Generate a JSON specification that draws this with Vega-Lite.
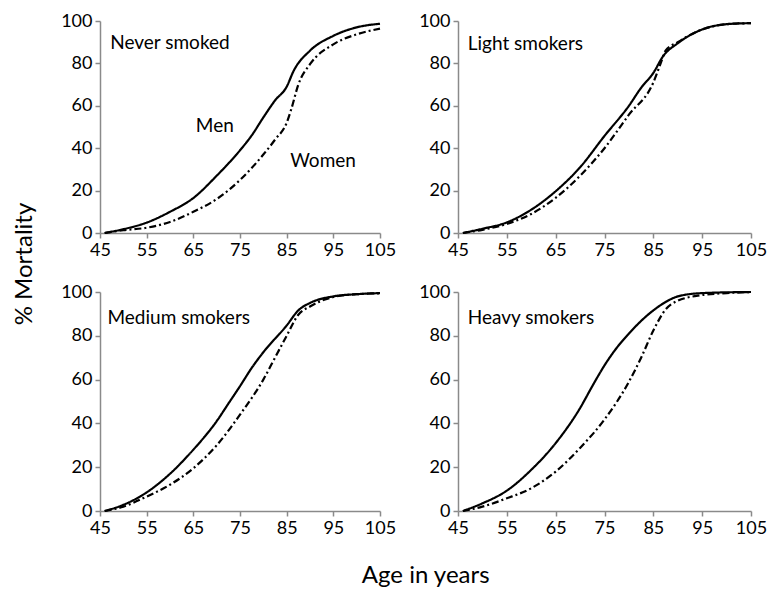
{
  "$schema": "https://vega.github.io/schema/vega-lite/v6.json",
  "background": "white",
  "padding": {"left": 12, "top": 12, "right": 5, "bottom": 5},
  "datasets": {
    "curves": [
      {"panel": "Never smoked", "sex": "Men", "age": 46, "mortality": 0},
      {"panel": "Never smoked", "sex": "Men", "age": 50, "mortality": 1.8},
      {"panel": "Never smoked", "sex": "Men", "age": 55, "mortality": 4.9},
      {"panel": "Never smoked", "sex": "Men", "age": 60, "mortality": 10},
      {"panel": "Never smoked", "sex": "Men", "age": 65, "mortality": 16.5},
      {"panel": "Never smoked", "sex": "Men", "age": 70, "mortality": 27},
      {"panel": "Never smoked", "sex": "Men", "age": 75, "mortality": 39},
      {"panel": "Never smoked", "sex": "Men", "age": 77.5, "mortality": 46},
      {"panel": "Never smoked", "sex": "Men", "age": 80, "mortality": 54.5},
      {"panel": "Never smoked", "sex": "Men", "age": 82.5, "mortality": 62.5},
      {"panel": "Never smoked", "sex": "Men", "age": 85, "mortality": 69},
      {"panel": "Never smoked", "sex": "Men", "age": 86.5, "mortality": 76.5},
      {"panel": "Never smoked", "sex": "Men", "age": 90, "mortality": 86},
      {"panel": "Never smoked", "sex": "Men", "age": 95, "mortality": 93},
      {"panel": "Never smoked", "sex": "Men", "age": 100, "mortality": 97},
      {"panel": "Never smoked", "sex": "Men", "age": 105, "mortality": 98.7},
      {"panel": "Never smoked", "sex": "Women", "age": 46, "mortality": 0},
      {"panel": "Never smoked", "sex": "Women", "age": 50, "mortality": 1.3},
      {"panel": "Never smoked", "sex": "Women", "age": 55, "mortality": 2.5},
      {"panel": "Never smoked", "sex": "Women", "age": 60, "mortality": 5.2},
      {"panel": "Never smoked", "sex": "Women", "age": 65, "mortality": 10},
      {"panel": "Never smoked", "sex": "Women", "age": 70, "mortality": 16},
      {"panel": "Never smoked", "sex": "Women", "age": 75, "mortality": 25},
      {"panel": "Never smoked", "sex": "Women", "age": 80, "mortality": 37},
      {"panel": "Never smoked", "sex": "Women", "age": 82.5, "mortality": 44},
      {"panel": "Never smoked", "sex": "Women", "age": 85, "mortality": 52},
      {"panel": "Never smoked", "sex": "Women", "age": 86, "mortality": 58.5},
      {"panel": "Never smoked", "sex": "Women", "age": 87.5, "mortality": 70},
      {"panel": "Never smoked", "sex": "Women", "age": 90, "mortality": 79.6},
      {"panel": "Never smoked", "sex": "Women", "age": 95, "mortality": 89},
      {"panel": "Never smoked", "sex": "Women", "age": 100, "mortality": 93.7},
      {"panel": "Never smoked", "sex": "Women", "age": 105, "mortality": 96.4},

      {"panel": "Light smokers", "sex": "Men", "age": 46, "mortality": 0},
      {"panel": "Light smokers", "sex": "Men", "age": 50, "mortality": 2},
      {"panel": "Light smokers", "sex": "Men", "age": 55, "mortality": 5},
      {"panel": "Light smokers", "sex": "Men", "age": 60, "mortality": 11},
      {"panel": "Light smokers", "sex": "Men", "age": 65, "mortality": 19.7},
      {"panel": "Light smokers", "sex": "Men", "age": 70, "mortality": 31},
      {"panel": "Light smokers", "sex": "Men", "age": 75, "mortality": 45.8},
      {"panel": "Light smokers", "sex": "Men", "age": 80, "mortality": 60},
      {"panel": "Light smokers", "sex": "Men", "age": 82.5, "mortality": 68.5},
      {"panel": "Light smokers", "sex": "Men", "age": 85, "mortality": 75.5},
      {"panel": "Light smokers", "sex": "Men", "age": 87, "mortality": 83.4},
      {"panel": "Light smokers", "sex": "Men", "age": 90, "mortality": 89.5},
      {"panel": "Light smokers", "sex": "Men", "age": 95, "mortality": 96},
      {"panel": "Light smokers", "sex": "Men", "age": 100, "mortality": 98.5},
      {"panel": "Light smokers", "sex": "Men", "age": 105, "mortality": 99},
      {"panel": "Light smokers", "sex": "Women", "age": 46, "mortality": 0},
      {"panel": "Light smokers", "sex": "Women", "age": 50, "mortality": 1.5},
      {"panel": "Light smokers", "sex": "Women", "age": 55, "mortality": 4.3},
      {"panel": "Light smokers", "sex": "Women", "age": 60, "mortality": 9},
      {"panel": "Light smokers", "sex": "Women", "age": 65, "mortality": 16.6},
      {"panel": "Light smokers", "sex": "Women", "age": 70, "mortality": 27},
      {"panel": "Light smokers", "sex": "Women", "age": 75, "mortality": 40},
      {"panel": "Light smokers", "sex": "Women", "age": 80, "mortality": 55.8},
      {"panel": "Light smokers", "sex": "Women", "age": 85, "mortality": 71},
      {"panel": "Light smokers", "sex": "Women", "age": 86.5, "mortality": 80},
      {"panel": "Light smokers", "sex": "Women", "age": 87.5, "mortality": 86},
      {"panel": "Light smokers", "sex": "Women", "age": 90, "mortality": 90},
      {"panel": "Light smokers", "sex": "Women", "age": 95, "mortality": 96},
      {"panel": "Light smokers", "sex": "Women", "age": 100, "mortality": 98.5},
      {"panel": "Light smokers", "sex": "Women", "age": 105, "mortality": 99},

      {"panel": "Medium smokers", "sex": "Men", "age": 46, "mortality": 0},
      {"panel": "Medium smokers", "sex": "Men", "age": 50, "mortality": 2.8},
      {"panel": "Medium smokers", "sex": "Men", "age": 55, "mortality": 8.5},
      {"panel": "Medium smokers", "sex": "Men", "age": 60, "mortality": 17},
      {"panel": "Medium smokers", "sex": "Men", "age": 65, "mortality": 28},
      {"panel": "Medium smokers", "sex": "Men", "age": 70, "mortality": 41},
      {"panel": "Medium smokers", "sex": "Men", "age": 72.5, "mortality": 49},
      {"panel": "Medium smokers", "sex": "Men", "age": 75, "mortality": 57},
      {"panel": "Medium smokers", "sex": "Men", "age": 77.5, "mortality": 65.3},
      {"panel": "Medium smokers", "sex": "Men", "age": 80, "mortality": 72.5},
      {"panel": "Medium smokers", "sex": "Men", "age": 85, "mortality": 84.7},
      {"panel": "Medium smokers", "sex": "Men", "age": 87.5, "mortality": 91.6},
      {"panel": "Medium smokers", "sex": "Men", "age": 90, "mortality": 95},
      {"panel": "Medium smokers", "sex": "Men", "age": 95, "mortality": 98},
      {"panel": "Medium smokers", "sex": "Men", "age": 100, "mortality": 99},
      {"panel": "Medium smokers", "sex": "Men", "age": 105, "mortality": 99.5},
      {"panel": "Medium smokers", "sex": "Women", "age": 46, "mortality": 0},
      {"panel": "Medium smokers", "sex": "Women", "age": 50, "mortality": 2},
      {"panel": "Medium smokers", "sex": "Women", "age": 55, "mortality": 6.6},
      {"panel": "Medium smokers", "sex": "Women", "age": 60, "mortality": 12},
      {"panel": "Medium smokers", "sex": "Women", "age": 65, "mortality": 19.5},
      {"panel": "Medium smokers", "sex": "Women", "age": 70, "mortality": 30},
      {"panel": "Medium smokers", "sex": "Women", "age": 75, "mortality": 44},
      {"panel": "Medium smokers", "sex": "Women", "age": 80, "mortality": 60},
      {"panel": "Medium smokers", "sex": "Women", "age": 82.5, "mortality": 70},
      {"panel": "Medium smokers", "sex": "Women", "age": 85, "mortality": 80},
      {"panel": "Medium smokers", "sex": "Women", "age": 87.5, "mortality": 89.6},
      {"panel": "Medium smokers", "sex": "Women", "age": 90, "mortality": 93.4},
      {"panel": "Medium smokers", "sex": "Women", "age": 95, "mortality": 97.7},
      {"panel": "Medium smokers", "sex": "Women", "age": 100, "mortality": 99},
      {"panel": "Medium smokers", "sex": "Women", "age": 105, "mortality": 99.4},

      {"panel": "Heavy smokers", "sex": "Men", "age": 46, "mortality": 0},
      {"panel": "Heavy smokers", "sex": "Men", "age": 50, "mortality": 3.5},
      {"panel": "Heavy smokers", "sex": "Men", "age": 55, "mortality": 9.3},
      {"panel": "Heavy smokers", "sex": "Men", "age": 60, "mortality": 18.8},
      {"panel": "Heavy smokers", "sex": "Men", "age": 65, "mortality": 31},
      {"panel": "Heavy smokers", "sex": "Men", "age": 70, "mortality": 47},
      {"panel": "Heavy smokers", "sex": "Men", "age": 72.5, "mortality": 57},
      {"panel": "Heavy smokers", "sex": "Men", "age": 75, "mortality": 66.5},
      {"panel": "Heavy smokers", "sex": "Men", "age": 77.5, "mortality": 74.5},
      {"panel": "Heavy smokers", "sex": "Men", "age": 80, "mortality": 81},
      {"panel": "Heavy smokers", "sex": "Men", "age": 82.5, "mortality": 86.8},
      {"panel": "Heavy smokers", "sex": "Men", "age": 85, "mortality": 91.6},
      {"panel": "Heavy smokers", "sex": "Men", "age": 87.5, "mortality": 95.4},
      {"panel": "Heavy smokers", "sex": "Men", "age": 90, "mortality": 98},
      {"panel": "Heavy smokers", "sex": "Men", "age": 95, "mortality": 99.5},
      {"panel": "Heavy smokers", "sex": "Men", "age": 105, "mortality": 100},
      {"panel": "Heavy smokers", "sex": "Women", "age": 46, "mortality": 0},
      {"panel": "Heavy smokers", "sex": "Women", "age": 50, "mortality": 2},
      {"panel": "Heavy smokers", "sex": "Women", "age": 55, "mortality": 5.8},
      {"panel": "Heavy smokers", "sex": "Women", "age": 60, "mortality": 10.4},
      {"panel": "Heavy smokers", "sex": "Women", "age": 65, "mortality": 18},
      {"panel": "Heavy smokers", "sex": "Women", "age": 70, "mortality": 28.8},
      {"panel": "Heavy smokers", "sex": "Women", "age": 75, "mortality": 41.8},
      {"panel": "Heavy smokers", "sex": "Women", "age": 80, "mortality": 59},
      {"panel": "Heavy smokers", "sex": "Women", "age": 82.5, "mortality": 70},
      {"panel": "Heavy smokers", "sex": "Women", "age": 85, "mortality": 82.4},
      {"panel": "Heavy smokers", "sex": "Women", "age": 87.5, "mortality": 92},
      {"panel": "Heavy smokers", "sex": "Women", "age": 90, "mortality": 96},
      {"panel": "Heavy smokers", "sex": "Women", "age": 95, "mortality": 98.6},
      {"panel": "Heavy smokers", "sex": "Women", "age": 100, "mortality": 99.5},
      {"panel": "Heavy smokers", "sex": "Women", "age": 105, "mortality": 100}
    ],
    "labels": [
      {"panel": "Never smoked", "kind": "panel", "label": "Never smoked", "age": 47.2, "mortality": 89.5},
      {"panel": "Never smoked", "kind": "series", "label": "Men", "age": 69.6, "mortality": 50.5},
      {"panel": "Never smoked", "kind": "series", "label": "Women", "age": 92.8, "mortality": 34},
      {"panel": "Light smokers", "kind": "panel", "label": "Light smokers", "age": 47.0, "mortality": 89},
      {"panel": "Medium smokers", "kind": "panel", "label": "Medium smokers", "age": 46.6, "mortality": 88},
      {"panel": "Heavy smokers", "kind": "panel", "label": "Heavy smokers", "age": 47.0, "mortality": 88}
    ]
  },
  "vconcat": [
    {
      "hconcat": [
        {
          "width": 280, "height": 212,
          "layer": [
            {
              "data": {"name": "curves"},
              "transform": [{"filter": "datum.panel === 'Never smoked'"}],
              "mark": {"type": "line", "color": "black", "strokeWidth": 2.2, "interpolate": "monotone"},
              "encoding": {
                "x": {"field": "age", "type": "quantitative", "scale": {"domain": [45, 105], "nice": false, "zero": false}, "axis": {"values": [45, 55, 65, 75, 85, 95, 105], "title": null}},
                "y": {"field": "mortality", "type": "quantitative", "scale": {"domain": [0, 100], "nice": false}, "axis": {"values": [0, 20, 40, 60, 80, 100], "title": null}},
                "strokeDash": {"field": "sex", "type": "nominal", "scale": {"domain": ["Men", "Women"], "range": [[1, 0], [7, 3, 2, 3]]}, "legend": null}
              }
            },
            {
              "data": {"name": "labels"},
              "transform": [{"filter": "datum.panel === 'Never smoked' && datum.kind === 'panel'"}],
              "mark": {"type": "text", "font": "Lato", "fontSize": 19, "baseline": "middle", "align": "left", "color": "black"},
              "encoding": {
                "x": {"field": "age", "type": "quantitative"},
                "y": {"field": "mortality", "type": "quantitative"},
                "text": {"field": "label"}
              }
            },
            {
              "data": {"name": "labels"},
              "transform": [{"filter": "datum.panel === 'Never smoked' && datum.kind === 'series'"}],
              "mark": {"type": "text", "font": "Lato", "fontSize": 19, "baseline": "middle", "align": "center", "color": "black"},
              "encoding": {
                "x": {"field": "age", "type": "quantitative"},
                "y": {"field": "mortality", "type": "quantitative"},
                "text": {"field": "label"}
              }
            }
          ]
        },
        {
          "width": 293, "height": 212,
          "layer": [
            {
              "data": {"name": "curves"},
              "transform": [{"filter": "datum.panel === 'Light smokers'"}],
              "mark": {"type": "line", "color": "black", "strokeWidth": 2.2, "interpolate": "monotone"},
              "encoding": {
                "x": {"field": "age", "type": "quantitative", "scale": {"domain": [45, 105], "nice": false, "zero": false}, "axis": {"values": [45, 55, 65, 75, 85, 95, 105], "title": null}},
                "y": {"field": "mortality", "type": "quantitative", "scale": {"domain": [0, 100], "nice": false}, "axis": {"values": [0, 20, 40, 60, 80, 100], "title": null}},
                "strokeDash": {"field": "sex", "type": "nominal", "scale": {"domain": ["Men", "Women"], "range": [[1, 0], [7, 3, 2, 3]]}, "legend": null}
              }
            },
            {
              "data": {"name": "labels"},
              "transform": [{"filter": "datum.panel === 'Light smokers'"}],
              "mark": {"type": "text", "font": "Lato", "fontSize": 19, "baseline": "middle", "align": "left", "color": "black"},
              "encoding": {
                "x": {"field": "age", "type": "quantitative"},
                "y": {"field": "mortality", "type": "quantitative"},
                "text": {"field": "label"}
              }
            }
          ]
        }
      ]
    },
    {
      "title": {"text": "Age in years", "orient": "bottom", "anchor": "middle", "font": "Lato", "fontSize": 24, "fontWeight": "normal", "color": "black", "offset": 27, "dx": 12},
      "hconcat": [
        {
          "width": 280, "height": 219,
          "layer": [
            {
              "data": {"name": "curves"},
              "transform": [{"filter": "datum.panel === 'Medium smokers'"}],
              "mark": {"type": "line", "color": "black", "strokeWidth": 2.2, "interpolate": "monotone"},
              "encoding": {
                "x": {"field": "age", "type": "quantitative", "scale": {"domain": [45, 105], "nice": false, "zero": false}, "axis": {"values": [45, 55, 65, 75, 85, 95, 105], "title": null}},
                "y": {"field": "mortality", "type": "quantitative", "scale": {"domain": [0, 100], "nice": false}, "axis": {"values": [0, 20, 40, 60, 80, 100], "title": null}},
                "strokeDash": {"field": "sex", "type": "nominal", "scale": {"domain": ["Men", "Women"], "range": [[1, 0], [7, 3, 2, 3]]}, "legend": null}
              }
            },
            {
              "data": {"name": "labels"},
              "transform": [{"filter": "datum.panel === 'Medium smokers'"}],
              "mark": {"type": "text", "font": "Lato", "fontSize": 19, "baseline": "middle", "align": "left", "color": "black"},
              "encoding": {
                "x": {"field": "age", "type": "quantitative"},
                "y": {"field": "mortality", "type": "quantitative"},
                "text": {"field": "label"}
              }
            }
          ]
        },
        {
          "width": 293, "height": 219,
          "layer": [
            {
              "data": {"name": "curves"},
              "transform": [{"filter": "datum.panel === 'Heavy smokers'"}],
              "mark": {"type": "line", "color": "black", "strokeWidth": 2.2, "interpolate": "monotone"},
              "encoding": {
                "x": {"field": "age", "type": "quantitative", "scale": {"domain": [45, 105], "nice": false, "zero": false}, "axis": {"values": [45, 55, 65, 75, 85, 95, 105], "title": null}},
                "y": {"field": "mortality", "type": "quantitative", "scale": {"domain": [0, 100], "nice": false}, "axis": {"values": [0, 20, 40, 60, 80, 100], "title": null}},
                "strokeDash": {"field": "sex", "type": "nominal", "scale": {"domain": ["Men", "Women"], "range": [[1, 0], [7, 3, 2, 3]]}, "legend": null}
              }
            },
            {
              "data": {"name": "labels"},
              "transform": [{"filter": "datum.panel === 'Heavy smokers'"}],
              "mark": {"type": "text", "font": "Lato", "fontSize": 19, "baseline": "middle", "align": "left", "color": "black"},
              "encoding": {
                "x": {"field": "age", "type": "quantitative"},
                "y": {"field": "mortality", "type": "quantitative"},
                "text": {"field": "label"}
              }
            }
          ]
        }
      ]
    }
  ],
  "title": {"text": "% Mortality", "orient": "left", "anchor": "middle", "font": "Lato", "fontSize": 24, "fontWeight": "normal", "color": "black", "offset": 24, "dx": 36},
  "spacing": 24,
  "config": {
    "view": {"stroke": null},
    "concat": {"spacing": 22},
    "axis": {
      "grid": false,
      "domainColor": "#8a8a8a",
      "domainWidth": 1.5,
      "tickColor": "#8a8a8a",
      "tickWidth": 1.5,
      "tickSize": 5,
      "labelFont": "Lato",
      "labelFontSize": 18,
      "labelColor": "black",
      "labelPadding": 3,
      "labelOverlap": false,
      "labelFlush": false
    }
  }
}
